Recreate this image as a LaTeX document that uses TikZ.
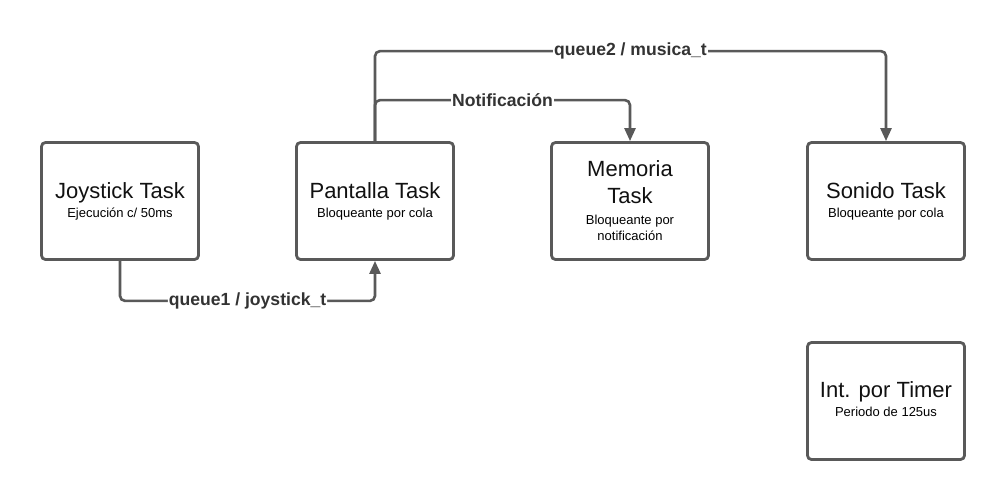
\documentclass[tikz,border=0pt]{standalone}
\usepackage{fontspec}
\setmainfont{Liberation Sans}
\usetikzlibrary{arrows.meta}
\definecolor{edge}{HTML}{595959}
\definecolor{labtxt}{HTML}{333333}
\definecolor{ttl}{HTML}{111111}
\tikzset{
  taskbox/.style={draw=edge, line width=2.8pt, rounded corners=4pt, fill=white,
    minimum width=157pt, minimum height=117pt, inner sep=0pt},
  ttltext/.style={anchor=base, text=ttl, inner sep=0pt, font=\fontsize{22}{26}\selectfont},
  subtext/.style={anchor=base, text=black, inner sep=0pt, font=\fontsize{13}{16}\selectfont},
  conn/.style={draw=edge, line width=2.6pt, rounded corners=5pt,
    -{Triangle[length=13pt,width=11pt]}},
  lab/.style={fill=white, text=labtxt, font=\fontsize{17.6}{20}\selectfont\bfseries,
    inner xsep=1pt, inner ysep=1pt}
}
\begin{document}
\begin{tikzpicture}[x=1pt,y=-1pt]
\useasboundingbox (0,0) rectangle (1006,501);
\fill[white] (0,0) rectangle (1006,501);

\node[taskbox] (joy) at (120,201) {};
\node[taskbox] (pan) at (375,201) {};
\node[taskbox] (mem) at (630,201) {};
\node[taskbox] (son) at (886,201) {};
\node[taskbox] (tim) at (886,401) {};

\path (joy.center) ++(0,-3) node[ttltext] (joyT) {Joystick Task};
\path (joy.center) ++(0,16) node[subtext] (joyS) {Ejecución c/ 50ms};
\path (pan.center) ++(0,-3) node[ttltext] (panT) {Pantalla Task};
\path (pan.center) ++(0,16) node[subtext] (panS) {Bloqueante por cola};
\path (mem.center) ++(0,-24.3) node[ttltext] (memT1) {Memoria};
\path (mem.center) ++(0,2.3) node[ttltext] (memT2) {Task};
\path (mem.center) ++(0,23.3) node[subtext] (memS1) {Bloqueante por};
\path (mem.center) ++(0,39.5) node[subtext] (memS2) {notificación};
\path (son.center) ++(0,-3) node[ttltext] (sonT) {Sonido Task};
\path (son.center) ++(0,16) node[subtext] (sonS) {Bloqueante por cola};
\path (tim.center) ++(0,-4) node[ttltext] (timT) {Int. por Timer};
\path (tim.center) ++(0,15.5) node[subtext] (timS) {Periodo de 125us};

\draw[conn] (joy.south) -- ++(0,40) -| node[lab,pos=0.25] {queue1 / joystick\_t} (pan.south);
\draw[conn] (pan.north) -- ++(0,-90) -| node[lab,pos=0.25] {queue2 / musica\_t} (son.north);
\draw[conn] (pan.north) -- ++(0,-41) -| node[lab,pos=0.25] {Notificación} (mem.north);
\end{tikzpicture}
\end{document}
